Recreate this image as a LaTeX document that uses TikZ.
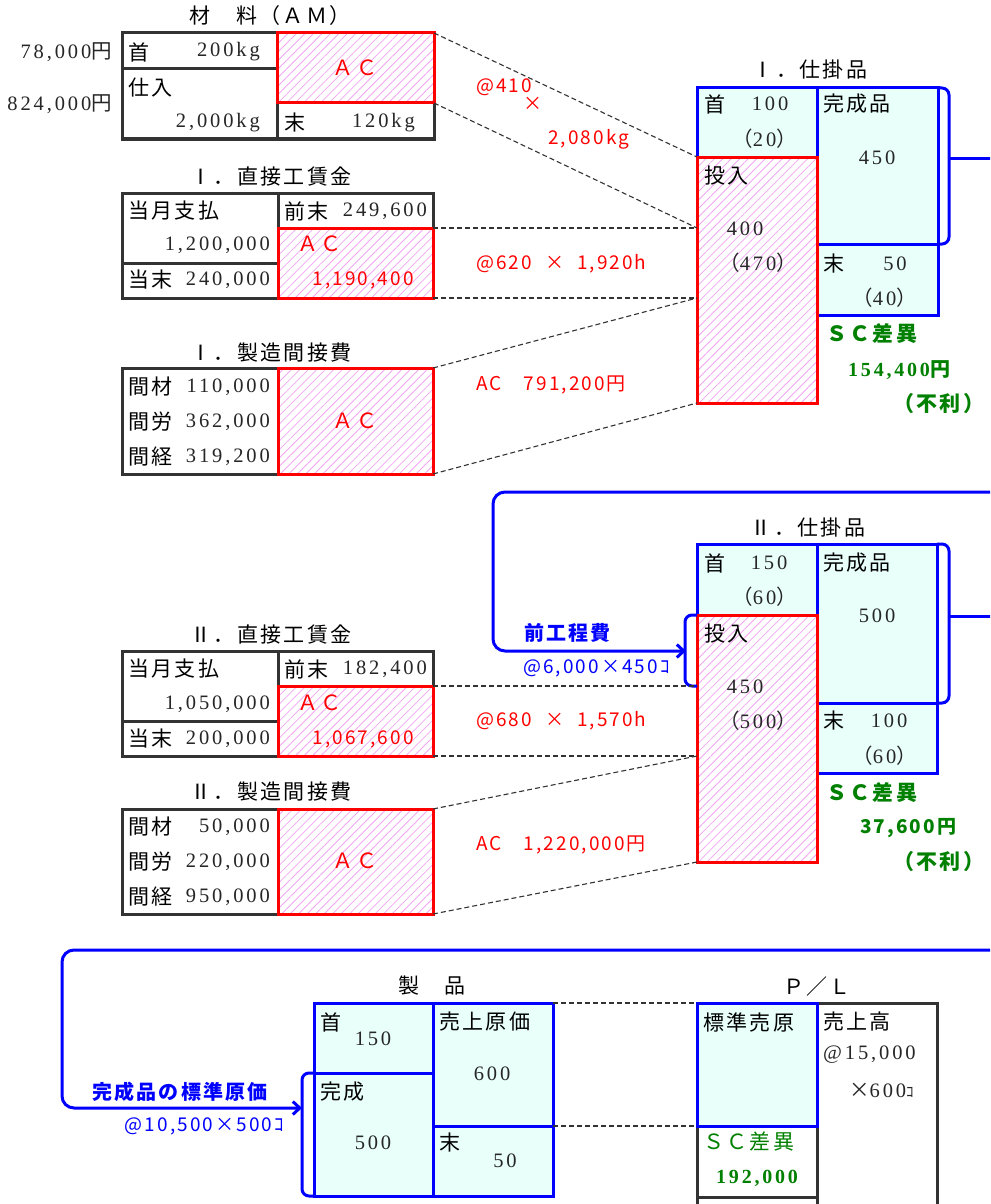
\documentclass[tikz,border=0pt]{standalone}
\usepackage{fontspec}
\setmainfont{Liberation Serif}
\newfontfamily\jpfnt[LetterSpace=11]{Noto Sans CJK JP}
\newfontfamily\numfnt[LetterSpace=14]{Liberation Serif}
\newfontfamily\gnfnt[LetterSpace=11]{Noto Sans CJK JP}
\usetikzlibrary{patterns.meta,arrows.meta,calc}
\definecolor{dk}{RGB}{51,51,51}
\definecolor{bl}{RGB}{0,0,255}
\definecolor{rd}{RGB}{255,0,0}
\definecolor{gr}{RGB}{0,128,0}
\definecolor{cy}{RGB}{232,255,250}
\definecolor{hat}{RGB}{242,165,242}
\newcommand\mkcell[6]{\node[#6, minimum width={#4-#2}, minimum height={#5-#3}] (#1) at ({(#2+#4)/2},{(#3+#5)/2}) {};}
\tikzset{
  cellbox/.style={inner sep=0pt, outer sep=0pt, line width=3pt},
  dkbox/.style={cellbox, draw=dk},
  blbox/.style={cellbox, draw=bl, fill=cy},
  rdbox/.style={cellbox, draw=rd, pattern={Lines[angle=45,distance=6pt,line width=0.8pt]}, pattern color=hat},
  jt/.style={inner sep=0pt, text=black, font=\jpfnt\fontsize{21}{23}\selectfont},
  nt/.style={inner sep=0pt, text=black!85, font=\numfnt\fontsize{20.5}{22}\selectfont},
  rt/.style={inner sep=0pt, text=rd, font=\gnfnt\fontsize{19}{21}\selectfont},
  ract/.style={inner sep=0pt, text=rd, font=\gnfnt\fontsize{21}{23}\selectfont},
  bt/.style={inner sep=0pt, text=bl, font=\gnfnt\fontsize{19}{21}\selectfont},
  btb/.style={inner sep=0pt, text=bl, font=\jpfnt\bfseries\fontsize{20}{22}\selectfont},
  gt/.style={inner sep=0pt, text=gr, font=\jpfnt\bfseries\fontsize{21}{23}\selectfont},
  gtr/.style={inner sep=0pt, text=gr, font=\jpfnt\fontsize{21}{23}\selectfont},
  gnum/.style={inner sep=0pt, text=gr, font=\numfnt\bfseries\fontsize{20}{22}\selectfont},
  gsnum/.style={inner sep=0pt, text=gr, font=\gnfnt\bfseries\fontsize{19}{21}\selectfont},
  conn/.style={draw=bl, line width=3pt},
  dsh/.style={draw=dk, line width=1.1pt, dash pattern=on 5pt off 3pt},
  arr/.style={-{Straight Barb[length=7pt,width=13pt]}}
}
\begin{document}
\begin{tikzpicture}[x=1pt,y=-1pt]
\useasboundingbox (0,0) rectangle (990,1204);
\clip (0,0) rectangle (990,1204);
\fill[white] (0,0) rectangle (990,1204);

% ---------- Materials (AM)
\mkcell{am1}{122}{33}{277}{69}{dkbox}
\mkcell{am2}{122}{69}{277}{139}{dkbox}
\mkcell{am3}{277}{103}{434}{139}{dkbox}
\mkcell{amAC}{277}{33}{434}{103}{rdbox}
\node[jt] (tam) at (270,16) {材　料（ＡＭ）};
\node[nt, anchor=east] (tam1) at (112,52) {78,000{\jpfnt 円}};
\node[nt, anchor=east] (tam2) at (112,104) {824,000{\jpfnt 円}};
\node[jt, anchor=west] (tam3) at (128,52) {首};
\node[nt, anchor=east] (tam4) at (260,52) {200kg};
\node[jt, anchor=west] (tam5) at (128,88) {仕入};
\node[nt, anchor=east] (tam6) at (260,123) {2,000kg};
\node[jt, anchor=west] (tam7) at (284,123) {末};
\node[nt, anchor=east] (tam8) at (415,123) {120kg};
\node[ract] (tam9) at (355,68) {ＡＣ};

% ---------- I direct labor
\mkcell{w1a}{122}{193}{278}{263}{dkbox}
\mkcell{w1b}{122}{263}{278}{298}{dkbox}
\mkcell{w1c}{278}{193}{433}{228}{dkbox}
\mkcell{w1AC}{278}{228}{433}{298}{rdbox}
\node[jt] (tw1) at (271,177) {Ⅰ．直接工賃金};
\node[jt, anchor=west] (tw2) at (128,211) {当月支払};
\node[nt, anchor=east] (tw3) at (270,245) {1,200,000};
\node[jt, anchor=west] (tw4) at (128,280) {当末};
\node[nt, anchor=east] (tw5) at (270,280) {240,000};
\node[jt, anchor=west] (tw6) at (284,211) {前末};
\node[nt, anchor=east] (tw7) at (427,211) {249,600};
\node[ract, anchor=west] (tw8) at (297,244) {ＡＣ};
\node[rt, anchor=east] (tw9) at (414,280) {1,190,400};

% ---------- I overhead
\mkcell{o1a}{122}{368}{278}{474}{dkbox}
\mkcell{o1AC}{278}{368}{433}{474}{rdbox}
\node[jt] (to1) at (271,353) {Ⅰ．製造間接費};
\node[jt, anchor=west] (to2) at (128,387) {間材};
\node[nt, anchor=east] (to3) at (270,387) {110,000};
\node[jt, anchor=west] (to4) at (128,422) {間労};
\node[nt, anchor=east] (to5) at (270,422) {362,000};
\node[jt, anchor=west] (to6) at (128,457) {間経};
\node[nt, anchor=east] (to7) at (270,457) {319,200};
\node[ract] (to8) at (355,421) {ＡＣ};

% ---------- I WIP
\mkcell{p1a}{697}{88}{817}{157}{blbox}
\mkcell{p1c}{817}{88}{938}{244}{blbox}
\mkcell{p1d}{817}{244}{938}{315}{blbox}
\mkcell{p1in}{697}{157}{817}{403}{rdbox}
\node[jt] (tp1) at (810,70) {Ⅰ．仕掛品};
\node[jt, anchor=west] (tp2) at (704,104) {首};
\node[nt] (tp3) at (770,104) {100};
\node[nt, anchor=east] (tp4) at (797,139) {{\jpfnt （}20{\jpfnt ）}};
\node[jt, anchor=west] (tp5) at (704,176) {投入};
\node[nt] (tp6) at (745,229) {400};
\node[nt, anchor=east] (tp7) at (797,263) {{\jpfnt （}470{\jpfnt ）}};
\node[jt, anchor=west] (tp8) at (823,104) {完成品};
\node[nt] (tp9) at (877,158) {450};
\node[jt, anchor=west] (tp10) at (823,264) {末};
\node[nt] (tp11) at (895,264) {50};
\node[nt, anchor=east] (tp12) at (917,298) {{\jpfnt （}40{\jpfnt ）}};
\node[gt, anchor=west] (tp13) at (826,334) {ＳＣ差異};
\node[gnum, anchor=west] (tp14) at (848,370) {154,400{\jpfnt 円}};
\node[gt, anchor=west] (tp15) at (893,404) {（不利）};

% red labels I
\node[rt, anchor=west] (tr1) at (476,87) {@410};
\node[rt] (tr2) at (533,104) {×};
\node[rt, anchor=west] (tr3) at (548,139) {2,080kg};
\node[rt, anchor=west] (tr4) at (476,264) {@620\hspace{13pt}×\hspace{13pt}1,920h};
\node[rt, anchor=west] (tr5) at (476,385) {AC\hspace{22pt}791,200円};

% dashed I
\draw[dsh] (amAC.north east) -- (p1in.north west);
\draw[dsh] (amAC.south east) -- (p1in.west |- w1AC.north east);
\draw[dsh] (w1AC.north east) -- (p1in.west |- w1AC.north east);
\draw[dsh] (w1AC.south east) -- (p1in.west |- w1AC.south east);
\draw[dsh] (o1AC.north east) -- (p1in.west |- w1AC.south east);
\draw[dsh] (o1AC.south east) -- (p1in.south west);

% bracket I and flow out
\draw[conn, rounded corners=7pt] (p1c.north east) -- ++(11,0) |- (p1c.south east);
\coordinate (b1) at (949,158);
\coordinate (e1) at (992,158);
\draw[conn] (b1) -- (e1);

% ---------- II WIP
\mkcell{p2a}{697}{544}{817}{615}{blbox}
\mkcell{p2c}{817}{544}{937}{703}{blbox}
\mkcell{p2d}{817}{703}{937}{773}{blbox}
\mkcell{p2in}{697}{615}{817}{862}{rdbox}
\node[jt] (tq1) at (808,528) {Ⅱ．仕掛品};
\node[jt, anchor=west] (tq2) at (704,563) {首};
\node[nt] (tq3) at (769,563) {150};
\node[nt, anchor=east] (tq4) at (797,597) {{\jpfnt （}60{\jpfnt ）}};
\node[jt, anchor=west] (tq5) at (704,634) {投入};
\node[nt] (tq6) at (745,687) {450};
\node[nt, anchor=east] (tq7) at (797,721) {{\jpfnt （}500{\jpfnt ）}};
\node[jt, anchor=west] (tq8) at (823,563) {完成品};
\node[nt] (tq9) at (877,616) {500};
\node[jt, anchor=west] (tq10) at (823,721) {末};
\node[nt] (tq11) at (889,721) {100};
\node[nt, anchor=east] (tq12) at (917,756) {{\jpfnt （}60{\jpfnt ）}};
\node[gt, anchor=west] (tq13) at (826,793) {ＳＣ差異};
\node[gsnum, anchor=west] (tq14) at (860,828) {37,600円};
\node[gt, anchor=west] (tq15) at (893,862) {（不利）};

% bracket II right and flow out
\draw[conn, rounded corners=7pt] (p2c.north east) -- ++(12,0) |- (p2c.south east);
\coordinate (b2) at (949,616);
\coordinate (e2) at (992,616);
\draw[conn] (b2) -- (e2);

% bracket II in and loop
\draw[conn, rounded corners=7pt] (p2in.north west) -- ++(-12,0) |- ($(p2in.north west)+(0,71)$);
\coordinate (e3) at (992,492);
\coordinate (k1) at (493,651);
\coordinate (a2) at (686,651);
\draw[conn, rounded corners=12pt, arr] (e3) -| (k1) -- (a2);
\node[btb, anchor=west] (tb1) at (524,633) {前工程費};
\node[bt, anchor=west] (tb2) at (523,668) {@6,000×450ｺ};

% ---------- II direct labor
\mkcell{w2a}{122}{651}{278}{721}{dkbox}
\mkcell{w2b}{122}{721}{278}{756}{dkbox}
\mkcell{w2c}{278}{651}{433}{686}{dkbox}
\mkcell{w2AC}{278}{686}{433}{756}{rdbox}
\node[jt] (tv1) at (271,635) {Ⅱ．直接工賃金};
\node[jt, anchor=west] (tv2) at (128,669) {当月支払};
\node[nt, anchor=east] (tv3) at (270,704) {1,050,000};
\node[jt, anchor=west] (tv4) at (128,739) {当末};
\node[nt, anchor=east] (tv5) at (270,739) {200,000};
\node[jt, anchor=west] (tv6) at (284,669) {前末};
\node[nt, anchor=east] (tv7) at (427,669) {182,400};
\node[ract, anchor=west] (tv8) at (297,703) {ＡＣ};
\node[rt, anchor=east] (tv9) at (414,739) {1,067,600};

% ---------- II overhead
\mkcell{o2a}{122}{809}{278}{914}{dkbox}
\mkcell{o2AC}{278}{809}{433}{914}{rdbox}
\node[jt] (tu1) at (271,792) {Ⅱ．製造間接費};
\node[jt, anchor=west] (tu2) at (128,827) {間材};
\node[nt, anchor=east] (tu3) at (270,827) {50,000};
\node[jt, anchor=west] (tu4) at (128,862) {間労};
\node[nt, anchor=east] (tu5) at (270,862) {220,000};
\node[jt, anchor=west] (tu6) at (128,897) {間経};
\node[nt, anchor=east] (tu7) at (270,897) {950,000};
\node[ract] (tu8) at (355,861) {ＡＣ};

% red labels II
\node[rt, anchor=west] (ts1) at (476,721) {@680\hspace{13pt}×\hspace{13pt}1,570h};
\node[rt, anchor=west] (ts2) at (476,845) {AC\hspace{22pt}1,220,000円};

% dashed II
\draw[dsh] (w2AC.north east) -- (p2in.west |- w2AC.north east);
\draw[dsh] (w2AC.south east) -- (p2in.west |- w2AC.south east);
\draw[dsh] (o2AC.north east) -- (p2in.west |- w2AC.south east);
\draw[dsh] (o2AC.south east) -- (p2in.south west);

% ---------- Products
\mkcell{s1}{314}{1003}{433}{1073}{blbox}
\mkcell{s2}{314}{1073}{433}{1196}{blbox}
\mkcell{s3}{433}{1003}{553}{1126}{blbox}
\mkcell{s4}{433}{1126}{553}{1196}{blbox}
\node[jt] (tx1) at (432,986) {製　品};
\node[jt, anchor=west] (tx2) at (320,1022) {首};
\node[nt] (tx3) at (373,1039) {150};
\node[jt, anchor=west] (tx4) at (320,1092) {完成};
\node[nt] (tx5) at (373,1143) {500};
\node[jt, anchor=west] (tx6) at (439,1022) {売上原価};
\node[nt] (tx7) at (492,1074) {600};
\node[jt, anchor=west] (tx8) at (439,1142) {末};
\node[nt] (tx9) at (505,1161) {50};

\draw[conn, rounded corners=7pt] (s2.north west) -- ++(-12,0) |- (s2.south west);
\coordinate (e4) at (992,950);
\coordinate (k2) at (62,1108);
\coordinate (a3) at (302,1108);
\draw[conn, rounded corners=12pt, arr] (e4) -| (k2) -- (a3);
\node[btb, anchor=west] (tb3) at (92,1092) {完成品の標準原価};
\node[bt, anchor=east] (tb4) at (284,1126) {@10,500×500ｺ};

% ---------- P/L
\mkcell{pl3}{817}{1003}{937}{1240}{dkbox}
\mkcell{pl2}{697}{1126}{817}{1197}{dkbox}
\mkcell{pl4}{697}{1197}{817}{1240}{dkbox}
\mkcell{pl1}{697}{1003}{817}{1126}{blbox}
\node[jt] (ty1) at (817,987) {Ｐ／Ｌ};
\node[jt, anchor=west] (ty2) at (703,1022) {標準売原};
\node[jt, anchor=west] (ty3) at (823,1022) {売上高};
\node[nt, anchor=west] (ty4) at (823,1055) {@15,000};
\node[nt, anchor=west] (ty5) at (849,1090) {{\jpfnt ×}600{\jpfnt\fontsize{15}{17}\selectfont ｺ}};
\node[gtr, anchor=west] (ty6) at (703,1142) {ＳＣ差異};
\node[gnum, anchor=west] (ty7) at (716,1178) {192,000};

\draw[dsh] (s3.north east) -- (pl1.north west);
\draw[dsh] (s3.south east) -- (pl1.south west);
\end{tikzpicture}
\end{document}
